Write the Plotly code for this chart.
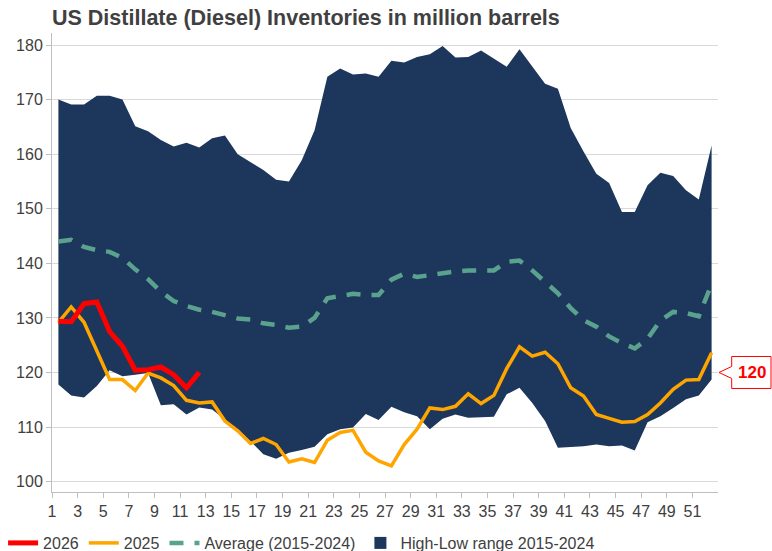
import plotly.graph_objects as go

# ---------------- data ----------------
weeks = list(range(1, 53))

high_2015_2024 = [170.0, 169.1, 169.1, 170.7, 170.7, 170.0, 165.1, 164.2, 162.6, 161.4,
                  162.1, 161.2, 162.9, 163.4, 160.0, 158.5, 157.1, 155.3, 155.0, 158.9,
                  164.4, 174.2, 175.7, 174.6, 174.8, 174.2, 177.1, 176.8, 177.8, 178.3,
                  179.8, 177.7, 177.8, 179.0, 177.5, 176.0, 179.2, 176.1, 172.9, 172.0,
                  164.8, 160.5, 156.4, 154.7, 149.4, 149.4, 154.3, 156.6, 156.0, 153.4,
                  151.7, 161.6]

low_2015_2024 = [117.8, 115.8, 115.4, 117.5, 120.4, 119.3, 119.6, 119.9, 114.0, 114.2,
                 112.3, 113.6, 113.2, 111.4, 109.6, 107.4, 105.0, 104.2, 105.3, 105.8,
                 106.4, 108.7, 109.6, 109.9, 112.4, 111.3, 113.7, 112.7, 112.0, 109.6,
                 111.5, 112.3, 111.7, 111.8, 111.9, 116.0, 117.2, 114.4, 111.1, 106.2,
                 106.3, 106.5, 106.8, 106.5, 106.6, 105.7, 110.9, 112.0, 113.5, 115.1,
                 115.8, 118.7]

avg_2015_2024 = [144.0, 144.3, 143.0, 142.4, 142.1, 141.0, 138.9, 137.1, 134.8, 133.1,
                 132.2, 131.5, 131.1, 130.4, 129.9, 129.7, 129.0, 128.7, 128.2, 128.4,
                 130.0, 133.6, 134.0, 134.4, 134.2, 134.2, 137.0, 138.1, 137.5, 137.9,
                 138.3, 138.5, 138.7, 138.8, 138.7, 140.3, 140.5, 138.7, 136.7, 134.5,
                 131.8, 129.6, 128.4, 126.6, 125.4, 124.4, 126.2, 129.5, 131.1, 130.9,
                 130.3, 136.2]

val_2025 = [129.2, 132.0, 129.2, 123.9, 118.7, 118.7, 116.7, 119.9, 119.0, 117.6,
            114.9, 114.4, 114.6, 111.1, 109.3, 107.0, 107.9, 106.8, 103.6, 104.2,
            103.5, 107.6, 109.0, 109.4, 105.4, 103.8, 102.9, 106.8, 109.6, 113.5,
            113.2, 113.8, 116.1, 114.3, 115.8, 120.7, 124.7, 123.0, 123.7, 121.6,
            117.2, 115.7, 112.3, 111.6, 110.9, 111.0, 112.3, 114.4, 116.9, 118.6,
            118.7, 123.6]

val_2026 = [129.4, 129.3, 132.6, 132.9, 127.5, 124.8, 120.4, 120.5, 121.0, 119.6,
            117.2, 120.0]
weeks_2026 = weeks[:len(val_2026)]

x_tick_labels = [str(w) for w in range(1, 52, 2)]
y_tick_values = [100, 110, 120, 130, 140, 150, 160, 170, 180]

# ---------------- styling ----------------
NAVY = "#1C365C"
TEAL = "#5AA28D"
ORANGE = "#FFA500"
RED = "#FF0000"
TEXT = "#404040"
GRID = "#D9D9D9"
AXIS = "#BFBFBF"
FONT = "Liberation Sans, Arial, sans-serif"

W, H = 772, 551
M_L, M_R, M_T, M_B = 52, 54, 33, 59
PLOT_W = W - M_L - M_R
PLOT_H = H - M_T - M_B
Y_MIN, Y_MAX = 98.1, 182.2

fig = go.Figure()

fig.add_trace(go.Scatter(x=weeks, y=low_2015_2024, mode="lines",
                         line=dict(width=0, color=NAVY), showlegend=False,
                         hoverinfo="skip"))
fig.add_trace(go.Scatter(x=weeks, y=high_2015_2024, mode="lines",
                         line=dict(width=0, color=NAVY), fill="tonexty",
                         fillcolor=NAVY, showlegend=False, hoverinfo="skip"))
fig.add_trace(go.Scatter(x=[None], y=[None], mode="markers",
                         marker=dict(symbol="square", size=12, color=NAVY),
                         name="High-Low range 2015-2024", legendrank=4))
fig.add_trace(go.Scatter(x=weeks, y=avg_2015_2024, mode="lines",
                         line=dict(color=TEAL, width=4.5, dash="14px,11px"),
                         name="Average (2015-2024)", legendrank=3))
fig.add_trace(go.Scatter(x=weeks, y=val_2025, mode="lines",
                         line=dict(color=ORANGE, width=3.5),
                         name="2025", legendrank=2))
fig.add_trace(go.Scatter(x=weeks_2026, y=val_2026, mode="lines",
                         line=dict(color=RED, width=5),
                         name="2026", legendrank=1))

# callout for the latest 2026 value
def px_x(p):
    return (p - M_L) / PLOT_W

def val_to_paper_y(v):
    return (v - Y_MIN) / (Y_MAX - Y_MIN)

last = val_2026[-1]
yc = val_to_paper_y(last)
dy = 1.0 / PLOT_H
tip_x = px_x(719)
bx0 = px_x(731.7)
bx1 = px_x(771.0)
path = (f"M {tip_x},{yc} L {bx0},{yc + 6*dy} L {bx0},{yc + 16*dy} "
        f"L {bx1},{yc + 16*dy} L {bx1},{yc - 16*dy} L {bx0},{yc - 16*dy} "
        f"L {bx0},{yc - 6*dy} Z")
fig.add_shape(type="path", path=path, xref="paper", yref="paper",
              fillcolor="white", line=dict(color=RED, width=1))
fig.add_annotation(x=px_x(751.6), y=yc, xref="paper", yref="paper",
                   text=f"<b>{last:.0f}</b>", showarrow=False,
                   font=dict(color=RED, size=17, family=FONT),
                   xanchor="center", yanchor="middle")

fig.update_layout(
    width=W, height=H,
    margin=dict(l=M_L, r=M_R, t=M_T, b=M_B, autoexpand=False),
    paper_bgcolor="white", plot_bgcolor="white",
    font=dict(family=FONT, color=TEXT, size=16),
    title=dict(text="<b>US Distillate (Diesel) Inventories in million barrels</b>",
               x=M_L / W, xanchor="left", xref="container",
               y=1 - 17 / H, yanchor="middle", yref="container",
               font=dict(size=21.5, color=TEXT, family=FONT)),
    showlegend=True,
    legend=dict(orientation="h", xref="container", yref="container",
                x=0.004, xanchor="left", y=(H - 543) / H, yanchor="middle",
                font=dict(size=16, color=TEXT, family=FONT),
                bgcolor="rgba(0,0,0,0)", traceorder="normal",
                itemwidth=30, tracegroupgap=0),
    xaxis=dict(range=[0.5, 52.5], tickmode="array",
               tickvals=[w - 0.5 for w in range(1, 52, 2)],
               ticktext=x_tick_labels, showgrid=False, zeroline=False,
               showline=True, linecolor=AXIS, linewidth=1,
               ticks="outside", ticklen=5, tickcolor=AXIS,
               tickfont=dict(size=16, color=TEXT)),
    yaxis=dict(range=[Y_MIN, Y_MAX], tickmode="array", tickvals=y_tick_values,
               showgrid=True, gridcolor=GRID, gridwidth=1, zeroline=False,
               showline=True, linecolor=AXIS, linewidth=1,
               ticks="outside", ticklen=5, tickcolor=AXIS,
               tickfont=dict(size=16, color=TEXT)),
)

fig.write_html("out.html", config={"displayModeBar": False},
               post_script="document.body.style.margin='0';")
